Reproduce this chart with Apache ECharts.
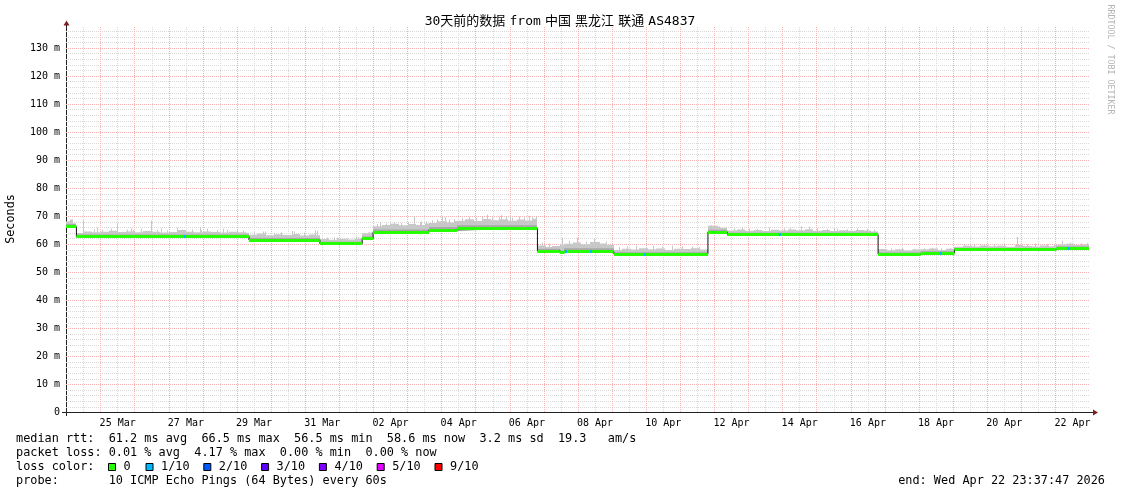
<!DOCTYPE html>
<html><head><meta charset="utf-8">
<script src="https://cdn.jsdelivr.net/npm/echarts@6/dist/echarts.min.js"></script>
<style>html,body{margin:0;padding:0;background:#fff}#c{width:1121px;height:494px}</style>
</head><body><div id="c"></div>
<script>
// ---------------- data (time in days since 24 Mar 00:00) ----------------
const chartTitle = '30天前的数据 from 中国 黑龙江 联通 AS4837';
const xStart = -0.0154;   // Mon Mar 23 23:37:47
const xEnd = 29.9846;     // Wed Apr 22 23:37:47
const xLabelDays = [1.5, 3.5, 5.5, 7.5, 9.5, 11.5, 13.5, 15.5, 17.5, 19.5, 21.5, 23.5, 25.5, 27.5, 29.5];
const xLabelText = ['25 Mar', '27 Mar', '29 Mar', '31 Mar', '02 Apr', '04 Apr', '06 Apr', '08 Apr', '10 Apr', '12 Apr', '14 Apr', '16 Apr', '18 Apr', '20 Apr', '22 Apr'];
const yLabelValues = [0, 10, 20, 30, 40, 50, 60, 70, 80, 90, 100, 110, 120, 130];
const yLabelText = ['0', '10 m', '20 m', '30 m', '40 m', '50 m', '60 m', '70 m', '80 m', '90 m', '100 m', '110 m', '120 m', '130 m'];
const yMax = 137.5;

// median rtt (ms): piecewise-constant segments
const medianStart = [-0.0154, 0.29, 5.35, 7.43, 8.67, 8.99, 10.63, 11.46, 13.81, 14.46, 14.60, 16.05, 18.81, 19.38, 23.80, 25.05, 26.04, 29.03];
const medianValue = [66.3, 62.8, 61.5, 60.2, 62.0, 64.3, 65.1, 65.7, 57.6, 57.1, 57.4, 56.6, 64.4, 63.5, 56.5, 56.9, 58.1, 58.6];

// smoke: upper envelope of the pings (light gray), [day, ms]
const smokeTop = [
  [-0.0154, 68.2], [0.10, 68.8], [0.20, 67.5],
  [0.29, 64.0], [0.50, 64.6], [0.75, 64.3], [1.00, 64.5], [1.25, 64.8], [1.50, 64.4], [1.75, 64.6], [2.00, 64.3], [2.25, 64.7], [2.50, 64.5], [2.75, 64.2], [3.00, 64.4], [3.25, 65.1], [3.50, 64.5], [3.75, 64.3], [4.00, 64.6], [4.25, 64.4], [4.50, 64.2], [4.75, 64.5], [5.00, 64.3], [5.25, 64.1],
  [5.35, 63.4], [5.60, 63.8], [5.85, 63.2], [6.10, 63.6], [6.35, 63.3], [6.60, 63.7], [6.85, 63.1], [7.10, 63.5], [7.30, 63.2],
  [7.43, 61.9], [7.70, 61.6], [7.95, 62.0], [8.20, 61.7], [8.45, 62.1],
  [8.67, 63.9], [8.85, 64.2],
  [8.99, 66.4], [9.25, 66.9], [9.50, 67.3], [9.75, 66.8], [10.00, 67.2], [10.25, 66.9], [10.50, 67.4],
  [10.63, 67.6], [10.90, 68.2], [11.15, 67.8], [11.35, 68.3],
  [11.46, 68.4], [11.70, 68.9], [11.95, 68.3], [12.20, 69.0], [12.45, 68.6], [12.70, 68.9], [12.95, 68.4], [13.20, 68.8], [13.45, 68.5], [13.65, 69.1],
  [13.81, 59.6], [14.05, 59.0], [14.25, 59.4],
  [14.46, 59.8],
  [14.60, 60.2], [14.85, 60.6], [15.10, 60.0], [15.35, 60.8], [15.60, 60.3], [15.85, 59.8],
  [16.05, 58.0], [16.30, 58.4], [16.55, 58.1], [16.80, 58.6], [17.05, 58.2], [17.30, 58.5], [17.55, 58.0], [17.80, 58.4], [18.05, 58.3], [18.30, 58.6], [18.55, 58.1],
  [18.81, 66.6], [19.10, 65.9],
  [19.38, 64.9], [19.65, 65.3], [19.90, 64.8], [20.15, 65.1], [20.40, 64.7], [20.65, 65.2], [20.90, 64.9], [21.15, 65.3], [21.40, 65.0], [21.65, 65.4], [21.90, 64.8], [22.15, 65.1], [22.40, 64.7], [22.65, 65.0], [22.90, 64.8], [23.15, 65.1], [23.40, 64.9], [23.60, 64.6],
  [23.80, 58.3], [24.05, 57.9], [24.30, 58.2], [24.55, 57.8], [24.80, 58.1],
  [25.05, 58.2], [25.30, 58.5], [25.55, 58.0], [25.80, 58.4],
  [26.04, 59.1], [26.30, 59.5], [26.55, 59.2], [26.80, 59.6], [27.05, 59.3], [27.30, 59.5], [27.55, 59.1], [27.80, 59.7], [28.05, 59.4], [28.30, 59.2], [28.55, 59.6], [28.80, 59.3],
  [29.03, 59.9], [29.30, 60.2], [29.55, 59.7], [29.80, 60.0]
];
// individual high pings sticking out of the smoke, [day, ms]
const smokeSpikes = [
  [0.49, 68.6], [0.80, 65.4], [0.90, 66.0], [1.05, 65.2], [1.29, 65.6], [1.49, 67.6], [1.78, 65.3], [1.90, 65.8], [1.94, 65.1],
  [2.17, 65.5], [2.49, 68.5], [2.66, 65.2], [2.76, 65.7], [2.95, 65.0], [3.25, 65.9], [3.39, 65.3], [3.69, 65.4], [3.90, 66.0],
  [3.93, 65.1], [4.13, 65.5], [4.42, 65.0], [4.60, 65.5], [4.71, 65.3], [5.01, 65.2], [5.18, 64.9],
  [5.50, 64.2], [5.75, 64.6], [5.81, 64.6], [6.08, 64.1], [6.28, 64.3], [6.60, 64.7], [6.67, 64.6], [6.96, 64.2], [7.30, 65.0], [7.35, 64.8],
  [7.65, 62.3], [7.85, 62.5], [7.94, 62.4], [8.23, 62.2], [8.50, 62.8], [8.55, 62.6],
  [9.11, 67.2], [9.20, 67.9], [9.36, 67.5], [9.60, 67.8], [9.80, 67.6], [10.00, 67.9], [10.19, 70.0], [10.38, 68.0], [10.53, 68.2],
  [10.73, 68.6], [10.87, 68.9], [11.02, 70.0], [11.10, 69.6], [11.21, 68.8], [11.36, 69.0],
  [11.61, 69.4], [11.80, 69.8], [12.00, 69.5], [12.19, 69.9], [12.34, 70.5], [12.49, 69.6], [12.68, 69.8], [12.75, 70.4], [12.88, 70.0],
  [13.00, 69.8], [13.07, 69.5], [13.27, 69.9], [13.41, 69.6], [13.55, 70.2], [13.66, 69.8], [13.76, 70.0],
  [13.95, 60.6], [14.15, 60.2], [14.54, 62.3], [14.73, 61.2], [14.98, 62.3], [15.22, 61.0], [15.47, 62.0], [15.60, 60.8], [15.81, 61.0],
  [16.20, 59.0], [16.44, 59.2], [16.69, 59.5], [16.98, 59.0], [17.20, 59.4], [17.47, 59.1], [17.76, 59.5], [18.06, 59.3], [18.35, 59.2], [18.55, 59.0],
  [18.89, 66.9], [19.13, 66.5], [19.57, 65.7], [19.82, 65.9], [20.01, 65.6], [20.26, 65.5], [20.60, 66.0], [21.04, 65.6], [21.23, 65.8],
  [21.53, 66.4], [21.77, 66.2], [22.02, 65.7], [22.31, 65.5], [22.50, 65.8], [22.60, 65.6], [22.89, 65.4], [23.19, 65.7], [23.48, 65.5], [23.68, 65.3],
  [24.17, 58.5], [24.51, 58.7], [24.85, 58.4], [25.14, 58.6], [25.39, 58.8], [25.63, 58.6], [25.92, 58.7],
  [26.32, 60.0], [26.61, 59.9], [26.90, 60.1], [27.20, 59.9], [27.49, 60.0], [27.88, 62.6], [28.17, 60.0], [28.40, 60.3], [28.76, 60.1], [28.96, 59.9],
  [29.20, 61.3], [29.44, 60.6], [29.74, 60.4], [29.93, 60.5]
];
// denser part of the smoke (darker gray), [day, ms]
const smokeMid = [
  [-0.0154, 67.2], [0.29, 63.5], [5.35, 62.2], [7.43, 60.9], [8.67, 62.8], [8.99, 65.3], [10.63, 66.2], [11.46, 66.8],
  [13.81, 58.4], [14.46, 57.8], [14.60, 58.6], [16.05, 57.2], [18.81, 65.2], [19.38, 64.1], [23.80, 57.1], [25.05, 57.5], [26.04, 58.7], [29.03, 59.2]
];
// samples with 1/10 packet loss
const lossOneDays = [3.44, 14.62, 15.35, 16.93, 20.89, 25.61, 29.36];

const lossColors = ['#26ff00', '#00b8ff', '#0059ff', '#5e00ff', '#7e00ff', '#dd00ff', '#ff0000'];
const lossLabels = ['0', '1/10', '2/10', '3/10', '4/10', '5/10', '9/10'];
const statLines = [
  'median rtt:  61.2 ms avg  66.5 ms max  56.5 ms min  58.6 ms now  3.2 ms sd  19.3   am/s',
  'packet loss: 0.01 % avg  4.17 % max  0.00 % min  0.00 % now',
  'loss color:',
  'probe:       10 ICMP Echo Pings (64 Bytes) every 60s'
];
const endText = 'end: Wed Apr 22 23:37:47 2026';
const vLabel = 'Seconds';
const watermark = 'RRDTOOL / TOBI OETIKER';

// ---------------- grid positions ----------------
const xMajor = [], xMinor = [], yMajor = [], yMinor = [];
for (let d = 1; d <= 29; d++) xMajor.push(d);
for (let d = 0; d <= 29; d++) xMinor.push(d + 0.5);
for (let v = 10; v <= 130; v += 10) yMajor.push(v);
for (let v = 2; v <= 136; v += 2) if (v % 10 !== 0) yMinor.push(v);

function medianAt(d) {
  let v = medianValue[0];
  for (let i = 0; i < medianStart.length; i++) if (medianStart[i] <= d + 1e-9) v = medianValue[i];
  return v;
}
function stepRects(arr) {
  return arr.map((p, i) => {
    const x1 = i + 1 < arr.length ? arr[i + 1][0] : xEnd;
    return [p[0], x1, medianAt(p[0]) - 0.4, p[1]];
  });
}
const lightItems = stepRects(smokeTop).concat(smokeSpikes.map(p => [p[0], p[0] + 0.03, medianAt(p[0]) - 0.4, p[1]]));
const midItems = stepRects(smokeMid);
const medianLine = medianStart.map((s, i) => [s, medianValue[i]]).concat([[xEnd, medianValue[medianValue.length - 1]]]);
const greenSegs = medianStart.map((s, i) => ({ coords: [[s, medianValue[i]], [i + 1 < medianStart.length ? medianStart[i + 1] : xEnd, medianValue[i]]] }));
const blueSegs = lossOneDays.map(d => ({ coords: [[d, medianAt(d)], [d + 0.06, medianAt(d)]] }));

function renderRect(params, api) {
  const a = api.coord([api.value(0), api.value(3)]);
  const b = api.coord([api.value(1), api.value(2)]);
  const x0 = Math.round(a[0]);
  let x1 = Math.round(b[0]);
  if (x1 <= x0) x1 = x0 + 1;
  return { type: 'rect', shape: { x: x0, y: a[1], width: x1 - x0, height: b[1] - a[1] }, style: { fill: api.visual('color') } };
}

const MONO = '"DejaVu Sans Mono", "Noto Sans CJK SC", monospace';
const GRID_MINOR = { color: '#d9d9d9', width: 1, type: [1, 1] };
const GRID_MAJOR = { color: '#f8b2b2', width: 1, type: [1, 1] };
const AXIS_COLOR = '#222';
const ARROW_COLOR = '#7f1f1f';

const gridL = 66, gridW = 1023, gridT = 27, gridH = 385.5;

function hiddenAxis(extra) {
  return Object.assign({ type: 'value', axisLine: { show: false }, axisLabel: { show: false } }, extra);
}

const graphics = [
  { type: 'text', x: 560, y: 21.5, style: { text: chartTitle.split(' ').join('{s| }'), font: '13px ' + MONO, fill: '#000', textAlign: 'center', textVerticalAlign: 'middle',
      rich: { s: { fontFamily: '"DejaVu Sans"', fontSize: 13 } } } },
  { type: 'text', x: 10.5, y: 219, rotation: Math.PI / 2, style: { text: vLabel, font: '11.8px ' + MONO, fill: '#000', textAlign: 'center', textVerticalAlign: 'middle' } },
  { type: 'text', x: 1110, y: 59.5, rotation: -Math.PI / 2, style: { text: watermark, font: '8.3px ' + MONO, fill: '#b4b4b4', textAlign: 'center', textVerticalAlign: 'middle' } },
  { type: 'text', x: 1105, y: 480.6, style: { text: endText, font: '11.85px ' + MONO, fill: '#000', textAlign: 'right', textVerticalAlign: 'middle' } },
  // axis lines with RRDtool-style overshoot and arrows
  { type: 'line', shape: { x1: 62, y1: 412.5, x2: 1094, y2: 412.5 }, style: { stroke: AXIS_COLOR, lineWidth: 1 } },
  { type: 'line', shape: { x1: 66.5, y1: 416, x2: 66.5, y2: 24 }, style: { stroke: AXIS_COLOR, lineWidth: 1 } },
  { type: 'polygon', shape: { points: [[1098, 412.5], [1093, 409.5], [1093, 415.5]] }, style: { fill: ARROW_COLOR } },
  { type: 'polygon', shape: { points: [[66.5, 20.5], [63.5, 25.5], [69.5, 25.5]] }, style: { fill: ARROW_COLOR } }
];
statLines.forEach((t, i) => {
  graphics.push({ type: 'text', x: 16, y: 438.6 + i * 14, style: { text: t, font: '11.85px ' + MONO, fill: '#000', textAlign: 'left', textVerticalAlign: 'middle' } });
});
const boxX = [108.5, 146, 203.8, 261.6, 319.4, 377.2, 435];
lossColors.forEach((c, i) => {
  graphics.push({ type: 'rect', shape: { x: boxX[i], y: 463.5, width: 7, height: 7 }, style: { fill: c, stroke: '#000', lineWidth: 1 } });
  graphics.push({ type: 'text', x: boxX[i] + 15, y: 466.6, style: { text: lossLabels[i], font: '11.85px ' + MONO, fill: '#000', textAlign: 'left', textVerticalAlign: 'middle' } });
});

const chart = echarts.init(document.getElementById('c'), null, { renderer: 'canvas' });
chart.setOption({
  animation: false,
  backgroundColor: '#fff',
  grid: { left: gridL, top: gridT, width: gridW, height: gridH, containLabel: false, outerBoundsMode: 'none' },
  xAxis: [
    { type: 'value', min: xStart, max: xEnd, position: 'bottom',
      axisLine: { show: false }, axisTick: { show: false }, splitLine: { show: false },
      axisLabel: { customValues: xLabelDays, margin: 6, color: '#000', fontFamily: MONO, fontSize: 10, hideOverlap: false,
        formatter: v => { const i = xLabelDays.findIndex(d => Math.abs(d - v) < 1e-6); return i >= 0 ? xLabelText[i] : ''; } } },
    hiddenAxis({ min: xStart, max: xEnd, axisTick: { show: false, customValues: xMinor }, splitLine: { show: true, lineStyle: GRID_MINOR } }),
    hiddenAxis({ min: xStart, max: xEnd, axisTick: { show: false, customValues: xMajor }, splitLine: { show: true, lineStyle: GRID_MAJOR } })
  ],
  yAxis: [
    { type: 'value', min: 0, max: yMax, position: 'left',
      axisLine: { show: false }, axisTick: { show: false }, splitLine: { show: false },
      axisLabel: { customValues: yLabelValues, margin: 6, color: '#000', fontFamily: MONO, fontSize: 10,
        formatter: v => { const i = yLabelValues.findIndex(d => Math.abs(d - v) < 1e-6); return i >= 0 ? yLabelText[i] : ''; } } },
    hiddenAxis({ min: 0, max: yMax, axisTick: { show: false, customValues: yMinor }, splitLine: { show: true, lineStyle: GRID_MINOR } }),
    hiddenAxis({ min: 0, max: yMax, axisTick: { show: false, customValues: yMajor }, splitLine: { show: true, lineStyle: GRID_MAJOR } })
  ],
  graphic: graphics,
  series: [
    { type: 'custom', name: 'smoke', xAxisIndex: 0, yAxisIndex: 0, renderItem: renderRect, data: lightItems,
      encode: { x: [0, 1], y: [2, 3] }, itemStyle: { color: '#c8c8c8' }, z: 2, silent: true, clip: true },
    { type: 'custom', name: 'smoke dense', xAxisIndex: 0, yAxisIndex: 0, renderItem: renderRect, data: midItems,
      encode: { x: [0, 1], y: [2, 3] }, itemStyle: { color: '#a8a8a8' }, z: 3, silent: true, clip: true },
    { type: 'line', name: 'median', xAxisIndex: 0, yAxisIndex: 0, data: medianLine, step: 'end', symbol: 'none',
      lineStyle: { color: '#111', width: 1 }, z: 4, silent: true },
    { type: 'lines', name: 'loss 0', coordinateSystem: 'cartesian2d', xAxisIndex: 0, yAxisIndex: 0, data: greenSegs,
      lineStyle: { color: lossColors[0], width: 3, opacity: 1, curveness: 0 }, z: 5, silent: true },
    { type: 'lines', name: 'loss 1/10', coordinateSystem: 'cartesian2d', xAxisIndex: 0, yAxisIndex: 0, data: blueSegs,
      lineStyle: { color: lossColors[1], width: 3, opacity: 1, curveness: 0 }, z: 6, silent: true }
  ]
});
</script>
</body></html>
